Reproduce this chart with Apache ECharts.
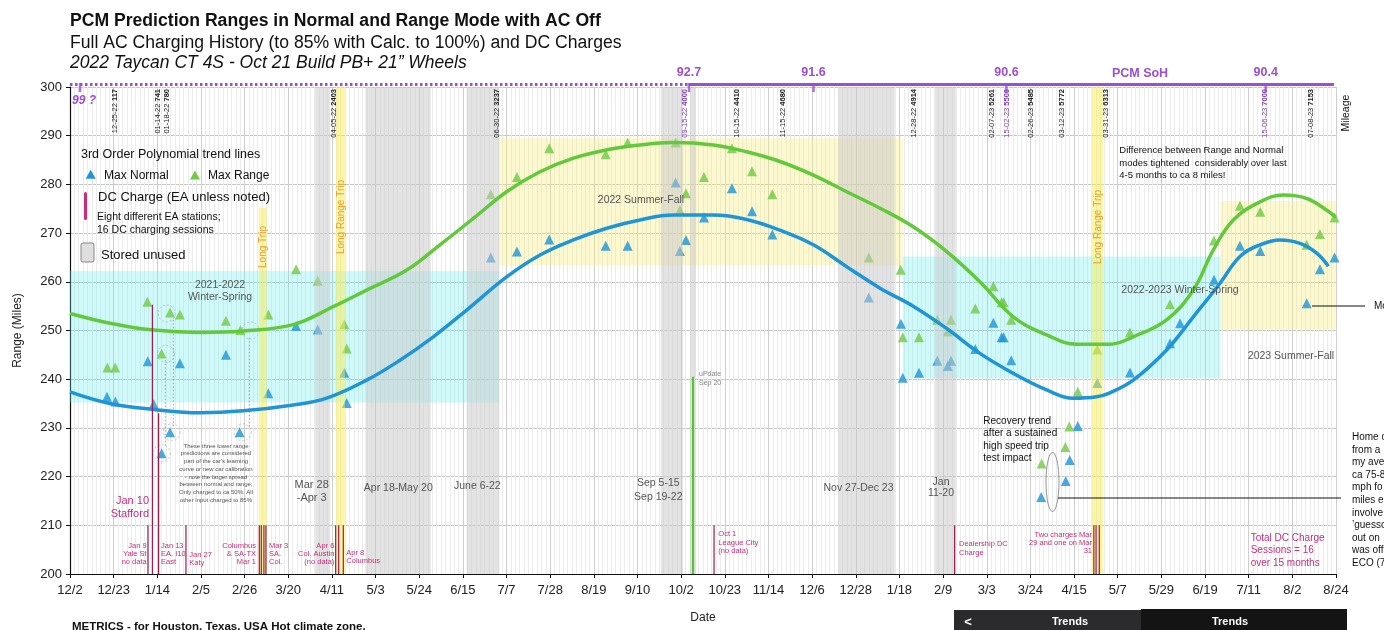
<!DOCTYPE html>
<html>
<head>
<meta charset="utf-8">
<title>PCM Prediction Ranges</title>
<script src="https://cdn.jsdelivr.net/npm/echarts@6/dist/echarts.min.js"></script>
<style>
  html, body { margin: 0; padding: 0; background: #fff; }
  #chart { width: 1384px; height: 630px; }
</style>
</head>
<body>
<div id="chart"></div>
<script>
// x values are days counted from 2021-12-02
const START = Date.UTC(2021, 11, 2)
const SPAN_DAYS = 630
const X_STEPS = 29

const maxNormal = [
  [18.4, 236.4], [22.6, 235.4], [38.7, 243.7], [41.6, 234.9], [45.6, 224.8], [49.8, 229.1],
  [54.7, 243.3], [77.6, 245.0], [84.4, 229.1], [98.7, 237.1], [112.5, 250.9], [123.3, 250.2],
  [136.5, 241.3], [137.7, 235.1],
  [209.4, 265.0], [222.4, 266.2], [238.5, 268.7], [266.6, 267.4], [277.5, 267.4], [301.4, 280.4],
  [303.5, 266.3], [306.5, 268.6], [315.5, 273.2], [329.4, 279.2], [339.4, 274.5], [349.5, 269.7],
  [397.5, 256.8],
  [413.5, 251.4], [414.4, 240.3], [422.5, 241.3], [431.6, 243.8], [436.8, 242.7], [438.4, 243.8],
  [450.5, 246.2], [459.5, 251.6], [463.6, 248.6], [464.6, 248.6], [468.4, 243.9],
  [483.3, 215.8], [495.5, 219.1], [497.5, 223.4], [501.5, 230.4], [511.2, 239.2],
  [527.5, 241.4], [547.4, 247.4], [552.4, 251.5], [569.3, 260.4], [582.2, 267.4], [592.3, 266.3],
  [615.4, 255.6], [622.0, 262.6], [629.3, 265.0]
]

const maxRange = [
  [18.6, 242.4], [22.5, 242.4], [38.5, 255.9], [45.6, 245.3], [49.8, 253.7], [54.7, 253.3],
  [77.6, 252.0], [84.8, 250.1], [98.7, 253.3], [112.5, 262.6], [123.3, 260.2], [136.5, 251.3],
  [137.7, 246.3],
  [209.4, 278.0], [222.4, 281.5], [238.5, 287.4], [266.6, 286.2], [277.5, 288.6], [301.4, 288.6],
  [303.5, 274.7], [306.5, 278.2], [315.5, 281.5], [329.4, 287.4], [339.4, 282.7], [349.5, 278.0],
  [397.5, 265.0],
  [413.4, 262.5], [414.4, 248.6], [422.5, 248.6], [431.6, 252.2], [436.8, 249.8], [438.4, 252.2],
  [450.5, 254.5], [459.5, 259.1], [463.6, 255.8], [464.6, 255.8], [468.4, 252.2],
  [483.5, 222.7], [495.3, 226.1], [497.3, 230.3], [501.5, 237.4], [511.2, 246.1],
  [527.5, 249.6], [547.4, 255.4], [569.3, 268.5], [582.2, 275.6], [592.3, 274.4],
  [615.4, 267.6], [622.0, 269.8], [629.3, 273.2]
]

// trend lines
const normalTrend = [
  [0, 237.4], [19.9, 235.0], [41.5, 233.8], [64.7, 233.1], [86.2, 233.5], [111.1, 234.7],
  [127.7, 236.1], [147.6, 239.8], [164.2, 243.9], [180.8, 248.7], [197.4, 254.2], [217.3, 261.0],
  [233.9, 265.5], [250.5, 268.6], [267.1, 271.0], [283.6, 272.7], [300.2, 273.7], [320.1, 273.7],
  [336.7, 272.8], [353.3, 270.6], [369.9, 267.6], [386.5, 263.1], [403.1, 258.7], [419.6, 255.0],
  [436.3, 250.4], [452.8, 245.3], [469.4, 241.2], [486.0, 237.8], [499.3, 236.1], [510.9, 236.4],
  [517.5, 237.2], [529.1, 239.8], [545.7, 246.0], [559.0, 252.8], [572.3, 259.7], [582.2, 265.2],
  [592.2, 267.6], [602.1, 268.6], [612.1, 267.9], [620.4, 265.9], [626.2, 263.2]
]

const rangeTrend = [
  [0, 253.5], [19.9, 251.5], [41.5, 250.1], [64.7, 249.6], [86.2, 249.9], [111.1, 251.2],
  [131.0, 254.9], [147.6, 258.3], [167.6, 262.4], [184.1, 267.6], [200.7, 273.0], [217.3, 278.5],
  [233.9, 282.6], [250.5, 285.4], [267.1, 287.1], [283.6, 288.1], [300.2, 288.6], [320.1, 288.1],
  [336.7, 286.7], [353.3, 284.7], [369.9, 281.9], [386.5, 278.5], [403.1, 275.1], [419.6, 271.3],
  [436.3, 266.2], [452.8, 260.0], [469.4, 252.8], [486.0, 249.1], [500.9, 247.2], [517.5, 247.2],
  [529.1, 248.7], [545.7, 252.2], [559.0, 258.3], [568.9, 266.5], [578.9, 272.7], [592.2, 276.4],
  [603.8, 277.8], [615.4, 277.1], [625.4, 274.7], [630, 273.2]
]

// [from day, to day, low, high]
const winterSpring = [[0, 213.6, 235.2, 262.2], [414.4, 572.5, 240.2, 265.2]]
const summerFall = [[213.6, 414.4, 263.4, 289.5], [572.5, 630, 250.2, 276.6]]
const storedUnused = [
  [122, 129.5, 200, 300], [147, 179.5, 200, 300], [197.4, 213.6, 200, 300],
  [294, 305, 200, 300], [308.5, 311.5, 240.5, 300], [382.3, 410.4, 200, 300], [430.5, 440.8, 200, 300]
]
const longTrips = [[94, 97.9, 200, 275.2], [132.2, 136.8, 200, 300], [508.6, 514, 200, 300]]
const softwareUpdate = [[308.5, 311.5, 200, 240.5]]

// DC charges: [day, top of marker]
const dcCharges = [
  [38.8, 210], [41.0, 255.3], [44.1, 233.0], [57.7, 210], [94.2, 210], [95.2, 210], [96.5, 210],
  [97.5, 210], [132.2, 210], [133.7, 210], [136.0, 210], [320.5, 210], [440.2, 210],
  [509.5, 210], [510.6, 210], [512.2, 210]
]

const sohDays = [5, 308, 370, 466, 595]
const sohValues = ['99 ?', '92.7', '91.6', '90.6', '90.4']

const mileageDays = [22.4, 43.9, 48.4, 131.4, 212.5, 306.0, 331.9, 354.8, 420.0, 458.8, 466.3, 478.2, 493.7, 515.5, 594.7, 617.6]
const mileageDates = ['12-25-22', '01-14-22', '01-18-22', '04-05-22', '06-30-22', '09-15-22', '10-15-22', '11-15-22',
  '12-28-22', '02-07-23', '15-02-23', '02-26-23', '03-12-23', '03-31-23', '15-06-23', '07-08-23']
const mileageMiles = ['117', '741', '780', '2403', '3237', '4000', '4410', '4680', '4914', '5261', '5500', '5485',
  '5772', '6313', '7000', '7153']

const circledPoints = [[48.1, 253.5], [47.8, 245.2], [50.6, 229.1], [45.6, 224.8], [85.9, 229.1], [89.9, 250.0]]
const circleLinks = [[51.4, 252.2, 230.2], [47.4, 243.9, 226.1], [89.2, 248.5, 230.0]]

const FONT = '"Liberation Sans", Arial, Helvetica, sans-serif'
const BLUE = '#1d95d6'
const GREEN = '#72c946'
const PURPLE = '#9a4fd6'
const MAGENTA = '#c4307c'

function dayLabel(v) {
  const d = new Date(START + Math.floor(v + 1e-6) * 864e5)
  return (d.getUTCMonth() + 1) + '/' + d.getUTCDate()
}

function bandSeries(name, data, color, z) {
  return {
    name, type: 'custom', z, silent: true, data,
    encode: { x: [0, 1], y: [2, 3] },
    renderItem(params, api) {
      const p0 = api.coord([api.value(0), api.value(3)])
      const p1 = api.coord([api.value(1), api.value(2)])
      return {
        type: 'rect',
        shape: { x: p0[0], y: p0[1], width: p1[0] - p0[0], height: p1[1] - p0[1] },
        style: { fill: color }
      }
    }
  }
}

const chart = echarts.init(document.getElementById('chart'))

chart.setOption({
  animation: false,
  grid: { left: 70, right: 48, top: 87, bottom: 56 },
  xAxis: {
    type: 'value', min: 0, max: SPAN_DAYS, interval: SPAN_DAYS / X_STEPS,
    name: 'Date', nameLocation: 'middle', nameGap: 38,
    nameTextStyle: { fontSize: 12, color: '#222', fontFamily: FONT },
    axisLine: { lineStyle: { color: '#111', width: 1.2 } },
    axisTick: { length: 4, lineStyle: { color: '#111' } },
    axisLabel: { formatter: dayLabel, fontSize: 13, color: '#222', fontFamily: FONT, margin: 10 },
    splitLine: { show: true, lineStyle: { color: '#cfcfcf' } },
    minorTick: { show: false, splitNumber: 10 },
    minorSplitLine: { show: true, lineStyle: { color: '#ececec' } }
  },
  yAxis: {
    type: 'value', min: 200, max: 300, interval: 10,
    name: 'Range (Miles)', nameLocation: 'middle', nameGap: 46,
    nameTextStyle: { fontSize: 12, color: '#222', fontFamily: FONT },
    axisLine: { show: true, lineStyle: { color: '#111', width: 1.2 } },
    axisTick: { show: true, length: 4, lineStyle: { color: '#111' } },
    axisLabel: { fontSize: 13, color: '#222', fontFamily: FONT, margin: 8 },
    splitLine: { lineStyle: { color: '#c8c8c8' } }
  },
  series: [
    bandSeries('Winter-Spring', winterSpring, 'rgba(100,240,240,0.3)', 1),
    bandSeries('Summer-Fall', summerFall, 'rgba(245,235,120,0.35)', 1),
    {
      name: 'Max Normal', type: 'scatter', z: 2, data: maxNormal,
      symbol: 'triangle', symbolSize: 10, itemStyle: { color: BLUE }
    },
    {
      name: 'Max Range', type: 'scatter', z: 2, data: maxRange,
      symbol: 'triangle', symbolSize: 10, itemStyle: { color: GREEN }
    },
    bandSeries('Stored unused', storedUnused, 'rgba(200,200,200,0.5)', 3),
    bandSeries('Long trips', longTrips, 'rgba(248,235,80,0.5)', 3),
    bandSeries('Update', softwareUpdate, 'rgba(150,220,120,0.45)', 3),
    {
      name: 'Circled', type: 'scatter', z: 3, data: circledPoints, silent: true,
      symbol: 'circle', symbolSize: 17,
      itemStyle: { color: 'rgba(0,0,0,0)', borderColor: '#aaa', borderWidth: 0.8, borderType: [2, 2] }
    },
    {
      name: 'Circle links', type: 'custom', z: 3, silent: true, data: circleLinks,
      renderItem(params, api) {
        const a = api.coord([api.value(0), api.value(1)])
        const b = api.coord([api.value(0), api.value(2)])
        return {
          type: 'line', shape: { x1: a[0], y1: a[1], x2: b[0], y2: b[1] },
          style: { stroke: '#888', lineWidth: 0.8, lineDash: [1.5, 2] }
        }
      }
    },
    {
      name: 'Normal trend', type: 'line', z: 4, data: normalTrend, smooth: 0.4,
      symbol: 'none', lineStyle: { color: BLUE, width: 3.5 }
    },
    {
      name: 'Range trend', type: 'line', z: 4, data: rangeTrend, smooth: 0.4,
      symbol: 'none', lineStyle: { color: '#62c93a', width: 3.5 }
    },
    {
      name: 'DC Charge', type: 'custom', z: 5, silent: true, data: dcCharges,
      renderItem(params, api) {
        const a = api.coord([api.value(0), api.value(1)])
        const b = api.coord([api.value(0), 200])
        return {
          type: 'line', shape: { x1: a[0], y1: a[1], x2: b[0], y2: b[1] },
          style: { stroke: '#9b1d4f', lineWidth: 1.2 }
        }
      }
    },
    {
      name: 'SW update', type: 'custom', z: 5, silent: true, data: softwareUpdate,
      renderItem(params, api) {
        const x = (api.value(0) + api.value(1)) / 2
        const a = api.coord([x, api.value(3)])
        const b = api.coord([x, api.value(2)])
        return {
          type: 'line', shape: { x1: a[0], y1: a[1], x2: b[0], y2: b[1] },
          style: { stroke: '#3a9e2a', lineWidth: 1.4 }
        }
      }
    },
    {
      name: 'SoH dotted', type: 'line', z: 6, clip: false, symbol: 'none',
      data: [[0, 300.5], [sohDays[1], 300.5]],
      lineStyle: { color: PURPLE, width: 3, type: [2.5, 2.5] }
    },
    {
      name: 'SoH', type: 'line', z: 6, clip: false, symbol: 'none',
      data: [[sohDays[1], 300.5], [629, 300.5]],
      lineStyle: { color: PURPLE, width: 3 }
    },
    {
      name: 'SoH ticks', type: 'scatter', z: 6, clip: false, silent: true,
      data: sohDays.map(d => [d, 300.5]),
      symbol: 'rect', symbolSize: [2.5, 9], symbolOffset: [0, 3],
      itemStyle: { color: PURPLE }
    }
  ]
})

function text(x, y, str, size, opt) {
  opt = opt || {}
  const align = opt.align || 'left'
  const va = opt.va || 'middle'
  return {
    type: 'text', x, y, rotation: opt.rotation || 0, silent: true, z: 100,
    style: {
      text: str,
      fill: opt.color || '#111',
      font: [opt.fontStyle || '', opt.weight || '', size + 'px', FONT].join(' ').trim(),
      align, verticalAlign: va, textAlign: align, textVerticalAlign: va,
      lineHeight: opt.lh || Math.round(size * 1.2),
      rich: opt.rich
    }
  }
}

const px = d => chart.convertToPixel({ xAxisIndex: 0 }, d)
const g = []

// titles
g.push(text(70, 21, 'PCM Prediction Ranges in Normal and Range Mode with AC Off', 17.6, { weight: 'bold' }))
g.push(text(70, 43, 'Full AC Charging History (to 85% with Calc. to 100%) and DC Charges', 17.6))
g.push(text(70, 63, '2022 Taycan CT 4S - Oct 21 Build PB+ 21\u201d Wheels', 17.5, { fontStyle: 'italic' }))

// PCM SoH labels
sohDays.forEach((d, i) => {
  if (i === 0) g.push(text(px(d) - 8, 101, sohValues[i], 12, { color: PURPLE, weight: 'bold', fontStyle: 'italic' }))
  else g.push(text(px(d), 72.5, sohValues[i], 12.5, { color: PURPLE, weight: 'bold', align: 'center' }))
})
g.push(text(1140, 74, 'PCM SoH', 12.5, { color: PURPLE, weight: 'bold', align: 'center' }))

// mileage labels along the top
mileageDays.forEach((d, i) => {
  const purple = mileageDates[i].startsWith('15-') || mileageMiles[i] === '4000'
  const col = purple ? '#7a3fb8' : '#222'
  g.push({
    type: 'text', x: px(d), y: 89, rotation: Math.PI / 2, silent: true, z: 100,
    style: {
      text: '{a|' + mileageDates[i] + '} {b|' + mileageMiles[i] + '}',
      align: 'right', verticalAlign: 'middle', textAlign: 'right', textVerticalAlign: 'middle',
      font: '7.5px ' + FONT, fill: col,
      rich: {
        a: { fontSize: 7.5, fontFamily: FONT, fill: col },
        b: { fontSize: 7.5, fontFamily: FONT, fontWeight: 'bold', fill: col }
      }
    }
  })
})
g.push(text(1346, 113, 'Mileage', 10.5, { rotation: Math.PI / 2, align: 'center' }))

// legend block
g.push(text(81, 154.5, '3rd Order Polynomial trend lines', 12.5))
g.push({ type: 'polygon', z: 100, silent: true, shape: { points: [[85.7, 178.7], [90.7, 169.7], [95.7, 178.7]] }, style: { fill: BLUE } })
g.push(text(104, 175.7, 'Max Normal', 12))
g.push({ type: 'polygon', z: 100, silent: true, shape: { points: [[190, 179.5], [195, 170.5], [200, 179.5]] }, style: { fill: GREEN } })
g.push(text(208, 175.7, 'Max Range', 12))
g.push({ type: 'rect', z: 100, silent: true, shape: { x: 84, y: 192, width: 3, height: 28, r: 1.5 }, style: { fill: MAGENTA } })
g.push(text(98, 197, 'DC Charge (EA unless noted)', 13))
g.push(text(97, 216.7, 'Eight different EA stations;', 10.5))
g.push(text(97, 230, '16 DC charging sessions', 10.5))
g.push({ type: 'rect', z: 100, silent: true, shape: { x: 81, y: 243, width: 13, height: 19, r: 2 }, style: { fill: '#dedede', stroke: '#888', lineWidth: 1 } })
g.push(text(101, 255, 'Stored unused', 13))

// trip band labels
const ORANGE = '#e3a234'
g.push(text(263.3, 247, 'Long Trip', 10, { rotation: Math.PI / 2, align: 'center', color: ORANGE }))
g.push(text(341, 217, 'Long Range Trip', 10, { rotation: Math.PI / 2, align: 'center', color: ORANGE }))
g.push(text(1098.3, 227, 'Long Range Trip', 10, { rotation: Math.PI / 2, align: 'center', color: ORANGE }))

// season labels
const GREY = '#555'
g.push(text(220, 291, '2021-2022\nWinter-Spring', 10.5, { align: 'center', color: GREY, lh: 12.5 }))
g.push(text(641, 200, '2022 Summer-Fall', 10.5, { align: 'center', color: GREY }))
g.push(text(1180, 290, '2022-2023 Winter-Spring', 10.5, { align: 'center', color: GREY }))
g.push(text(1291, 356, '2023 Summer-Fall', 10.5, { align: 'center', color: GREY }))

// stored period labels
g.push(text(311.7, 491.5, 'Mar 28\n-Apr 3', 11, { align: 'center', color: GREY, lh: 12.5 }))
g.push(text(398.3, 487.7, 'Apr 18-May 20', 10.5, { align: 'center', color: GREY }))
g.push(text(477.3, 485.7, 'June 6-22', 10.5, { align: 'center', color: GREY }))
g.push(text(658.3, 490, 'Sep 5-15\nSep 19-22', 10.5, { align: 'center', color: GREY, lh: 13.4 }))
g.push(text(858.5, 487.7, 'Nov 27-Dec 23', 10.5, { align: 'center', color: GREY }))
g.push(text(941, 487.5, 'Jan\n11-20', 10.5, { align: 'center', color: GREY, lh: 11.6 }))

// DC charge notes
g.push(text(149, 507.5, 'Jan 10\nStafford', 11, { align: 'right', color: MAGENTA, lh: 13 }))
const dcNote = (x, yTop, s, align) => g.push(text(x, yTop, s, 7.5, { align, va: 'top', color: MAGENTA, lh: 8.3 }))
dcNote(146.7, 541.5, 'Jan 9\nYale St\nno data', 'right')
dcNote(161, 541.5, 'Jan 13\nEA. I10\nEast', 'left')
dcNote(189.3, 550.5, 'Jan 27\nKaty', 'left')
dcNote(256, 541.5, 'Columbus\n& SA-TX\nMar 1', 'right')
dcNote(269, 541.5, 'Mar 3\nSA.\nCol.', 'left')
dcNote(334.3, 541.5, 'Apr 6\nCol. Austin\n(no data)', 'right')
dcNote(346.3, 548.5, 'Apr 8\nColumbus', 'left')
dcNote(718.3, 530, 'Oct 1\nLeague City\n(no data)', 'left')
dcNote(959, 540, 'Dealership DC\nCharge', 'left')
dcNote(1092, 530.5, 'Two charges Mar\n29 and one on Mar\n31', 'right')
g.push(text(1250.7, 531.5, 'Total DC Charge\nSessions = 16\nover 15 months', 10, { va: 'top', color: MAGENTA, lh: 12.5 }))

g.push(text(699, 370, 'uPdate\nSep 20', 7, { va: 'top', color: '#888', lh: 9 }))

// notes
g.push(text(216, 442, 'These three lower range\npredictions are considered\npart of the car\'s learning\ncurve or new car calibration\n- note the larger spread\nbetween normal and range;\nOnly charged to ca 50%. All\nother input charged to 85%', 6, { align: 'center', va: 'top', color: '#555', lh: 7.75 }))
g.push(text(983.3, 414.5, 'Recovery trend\nafter a sustained\nhigh speed trip\ntest impact', 10, { va: 'top', lh: 12.5 }))
g.push(text(1119.3, 144.5, 'Difference between Range and Normal\nmodes tightened  considerably over last\n4-5 months to ca 8 miles!', 9.5, { va: 'top', lh: 12.5 }))
g.push(text(1352, 431, 'Home c\nfrom a\nmy ave\nca 75-8\nmph fo\nmiles e\ninvolve\n\u2019guesso\nout on\nwas off\nECO (7', 10, { va: 'top', lh: 12.6 }))
g.push(text(1374, 306, 'Mo', 10))
g.push({ type: 'line', z: 100, silent: true, shape: { x1: 1312, y1: 306, x2: 1365, y2: 306 }, style: { stroke: '#111', lineWidth: 1 } })
g.push({ type: 'ellipse', z: 100, silent: true, shape: { cx: 1052.5, cy: 482, rx: 6.5, ry: 29.5 }, style: { fill: 'none', stroke: '#777', lineWidth: 0.8 } })
g.push({ type: 'line', z: 100, silent: true, shape: { x1: 1058, y1: 498, x2: 1341, y2: 498 }, style: { stroke: '#111', lineWidth: 1 } })

g.push(text(72, 627, 'METRICS - for Houston, Texas, USA Hot climate zone.', 11.5, { weight: 'bold' }))

// screenshot toolbar remnant
g.push({ type: 'rect', z: 100, silent: true, shape: { x: 954, y: 610, width: 188, height: 20 }, style: { fill: '#2b2b2d' } })
g.push({ type: 'rect', z: 100, silent: true, shape: { x: 1141, y: 609, width: 206, height: 21 }, style: { fill: '#141414' } })
g.push(text(968, 622, '<', 13, { align: 'center', color: '#fff', weight: 'bold' }))
g.push(text(1070, 622, 'Trends', 11, { align: 'center', color: '#fff', weight: 'bold' }))
g.push(text(1230, 622, 'Trends', 11, { align: 'center', color: '#fff', weight: 'bold' }))

chart.setOption({ graphic: { elements: g } })
</script>
</body>
</html>
